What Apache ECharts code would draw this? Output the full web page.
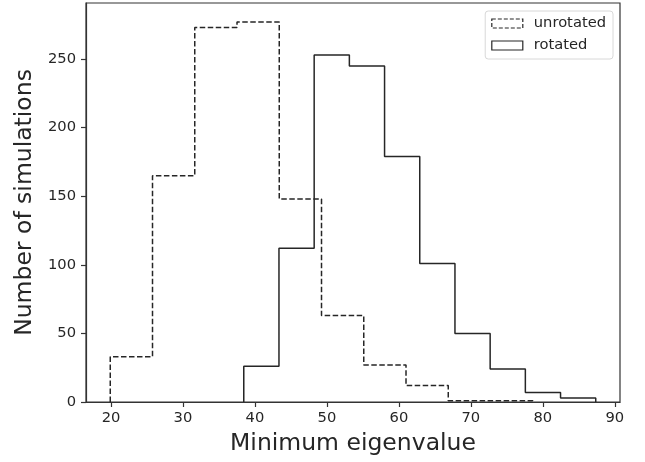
<!DOCTYPE html>
<html>
<head>
<meta charset="utf-8">
<script src="https://cdn.jsdelivr.net/npm/echarts@6/dist/echarts.min.js"></script>
<style>
  html, body { margin: 0; padding: 0; background: #fff; }
  #chart { width: 645px; height: 462px; }
</style>
</head>
<body>
<div id="chart"></div>
<script>
// histogram bin edges and counts
const unrotatedEdges = [19.9, 25.77, 31.64, 37.51, 43.38, 49.25, 55.12, 60.99, 66.86, 72.73, 78.6];
const unrotatedCounts = [33, 165, 273, 277, 148, 63, 27, 12, 1, 1];
const rotatedEdges = [38.45, 43.34, 48.23, 53.12, 58.01, 62.9, 67.79, 72.68, 77.57, 82.46, 87.35];
const rotatedCounts = [26, 112, 253, 245, 179, 101, 50, 24, 7, 3];

const xTicks = [20, 30, 40, 50, 60, 70, 80, 90];
const yTicks = [0, 50, 100, 150, 200, 250];

// outline of a step histogram, like histtype="step"
function stepOutline(edges, counts) {
  const pts = [[edges[0], 0]];
  counts.forEach((c, i) => {
    pts.push([edges[i], c]);
    pts.push([edges[i + 1], c]);
  });
  pts.push([edges[edges.length - 1], 0]);
  return pts;
}

const ink = "#262626";
const font = "DejaVu Sans";

const chart = echarts.init(document.getElementById("chart"));
chart.setOption({
  backgroundColor: "#fff",
  animation: false,
  textStyle: { fontFamily: font, color: ink },
  grid: {
    left: 86,
    right: 25,
    top: 3,
    bottom: 60,
    show: true,
    borderColor: "#333",
    borderWidth: 1.2,
  },
  legend: {
    orient: "vertical",
    right: 32,
    top: 11,
    align: "left",
    padding: [4, 7, 5, 6],
    itemWidth: 31,
    itemHeight: 9,
    itemGap: 5,
    backgroundColor: "#fff",
    borderColor: "#d8d8d8",
    borderWidth: 1,
    borderRadius: 3,
    textStyle: { fontFamily: font, fontSize: 14.7, color: ink, lineHeight: 17, padding: [0, 0, 0, 6] },
    data: [
      {
        name: "unrotated",
        icon: "rect",
        itemStyle: { color: "transparent", borderColor: "#262626", borderWidth: 1.2, borderType: [4, 2] },
      },
      {
        name: "rotated",
        icon: "rect",
        itemStyle: { color: "transparent", borderColor: "#262626", borderWidth: 1.2 },
      },
    ],
  },
  xAxis: {
    type: "value",
    min: 16.53,
    max: 90.72,
    name: "Minimum eigenvalue",
    nameLocation: "middle",
    nameGap: 30,
    nameTextStyle: { fontFamily: font, fontSize: 23.5, color: ink },
    splitLine: { show: false },
    axisLine: { show: true, onZero: false, lineStyle: { color: "#333", width: 1.2 } },
    axisTick: { show: true, length: 5, lineStyle: { color: "#333", width: 1.2 }, customValues: xTicks },
    axisLabel: { fontFamily: font, fontSize: 14.7, color: ink, margin: 9, customValues: xTicks },
  },
  yAxis: {
    type: "value",
    min: 0,
    max: 290.85,
    name: "Number of simulations",
    nameLocation: "middle",
    nameGap: 41,
    nameTextStyle: { fontFamily: font, fontSize: 23.5, color: ink },
    splitLine: { show: false },
    axisLine: { show: true, lineStyle: { color: "#333", width: 1.2 } },
    axisTick: { show: true, length: 5, lineStyle: { color: "#333", width: 1.2 }, customValues: yTicks },
    axisLabel: { fontFamily: font, fontSize: 14.7, color: ink, margin: 10, customValues: yTicks },
  },
  series: [
    {
      name: "unrotated",
      type: "line",
      data: stepOutline(unrotatedEdges, unrotatedCounts),
      showSymbol: false,
      itemStyle: { color: "#262626" },
      lineStyle: { color: "#262626", width: 1.5, type: [5.5, 2.5] },
      z: 2,
    },
    {
      name: "rotated",
      type: "line",
      data: stepOutline(rotatedEdges, rotatedCounts),
      showSymbol: false,
      itemStyle: { color: "#262626" },
      lineStyle: { color: "#262626", width: 1.5 },
      z: 3,
    },
  ],
});
</script>
</body>
</html>
